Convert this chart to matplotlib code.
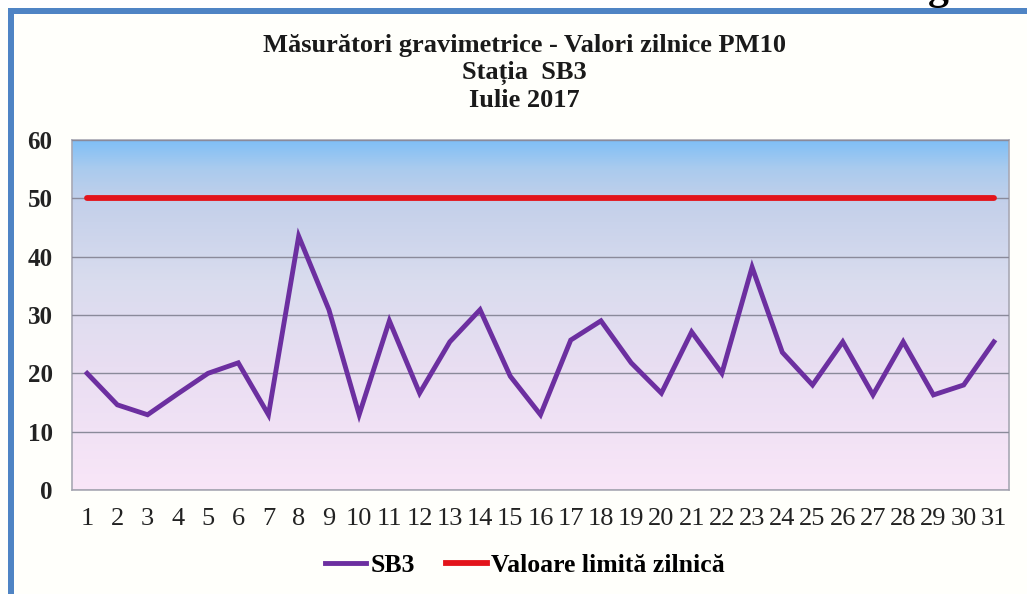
import numpy as np
import matplotlib
matplotlib.use("Agg")
import matplotlib.pyplot as plt
from matplotlib.colors import LinearSegmentedColormap
from matplotlib.lines import Line2D

days = list(range(1, 32))
sb3 = [20.0, 14.6, 12.9, 16.5, 20.0, 21.8, 12.9, 43.5, 30.9, 12.9,
       29.0, 16.6, 25.4, 30.9, 19.5, 12.9, 25.7, 29.0, 21.8, 16.6,
       27.1, 20.0, 38.2, 23.6, 18.0, 25.4, 16.3, 25.4, 16.3, 18.0, 25.4]
limita = [50] * 31
tick_labels = [str(d) for d in days]
title_lines = ["Măsurători gravimetrice - Valori zilnice PM10",
               "Stația  SB3",
               "Iulie 2017"]

fig = plt.figure(figsize=(10.27, 5.94), dpi=100, facecolor="#fffffb")
ax = fig.add_axes([72/1027, 1-490/594, 937/1027, 350/594])

# plot area gradient (top blue -> lavender -> pink)
cmap = LinearSegmentedColormap.from_list(
    "bg", [(0.0, "#f9e6f8"), (0.35, "#e9def2"), (0.6, "#d9dcee"),
           (0.82, "#c4d0ea"), (0.92, "#aacbee"), (1.0, "#80bff6")])
grad = np.linspace(0, 1, 256).reshape(-1, 1)
ax.imshow(grad, cmap=cmap, origin="lower", aspect="auto",
          extent=[0.5, 31.5, 0, 60], zorder=0)

ax.plot(days, limita, color="#e3141b", lw=4.2, solid_capstyle="round", zorder=3)
ax.plot(days, sb3, color="#6c2fa0", lw=3.5, solid_joinstyle="miter", zorder=4)

ax.set_xlim(0.5, 31.5)
ax.set_ylim(0, 60)
ax.set_yticks(range(0, 61, 10))
ax.set_xticks(days)
ax.set_xticklabels(tick_labels, family="Liberation Serif", fontsize=19)
ax.set_yticklabels([str(v) for v in range(0, 61, 10)],
                   family="Liberation Serif", fontweight="bold", fontsize=18)
ax.tick_params(axis="both", length=0, colors="#222222")
ax.tick_params(axis="y", pad=14)
ax.tick_params(axis="x", pad=13)
ax.grid(axis="y", color="#8a8a9a", lw=1.0, zorder=1)
ax.set_axisbelow(False)
for s in ax.spines.values():
    s.set_color("#a8a8b4")
    s.set_linewidth(1.2)

fig.text(0.511, 1-73/594, "\n".join(title_lines), ha="center", va="center",
         family="Liberation Serif", fontweight="bold", fontsize=19,
         linespacing=1.22, color="#1a1a1a")

handles = [Line2D([], [], color="#6c2fa0", lw=3.5),
           Line2D([], [], color="#e3141b", lw=4.2)]
fig.legend(handles, ["SB3", "Valoare limită zilnică"], loc="center",
           bbox_to_anchor=(0.511, 1-565/594), ncol=2, frameon=False,
           prop={"family": "Liberation Serif", "weight": "bold", "size": 18.5},
           handlelength=1.6, handletextpad=0.15, columnspacing=1.2)

# blue frame on the left and top
fig.add_artist(plt.Rectangle((8/1027, 0), 6/1027, 1-8/594,
                             transform=fig.transFigure, color="#4f84c4", lw=0))
fig.add_artist(plt.Rectangle((8/1027, 1-14/594), 1, 6/594,
                             transform=fig.transFigure, color="#4f84c4", lw=0))
fig.add_artist(plt.Rectangle((0, 1-8/594), 1, 8/594,
                             transform=fig.transFigure, color="white", lw=0))
fig.text(938/1027, 1+1/594, "g", ha="center", va="baseline",
         family="Liberation Serif", fontweight="bold", fontsize=30)

fig.savefig("out.png", dpi=100, facecolor=fig.get_facecolor())
